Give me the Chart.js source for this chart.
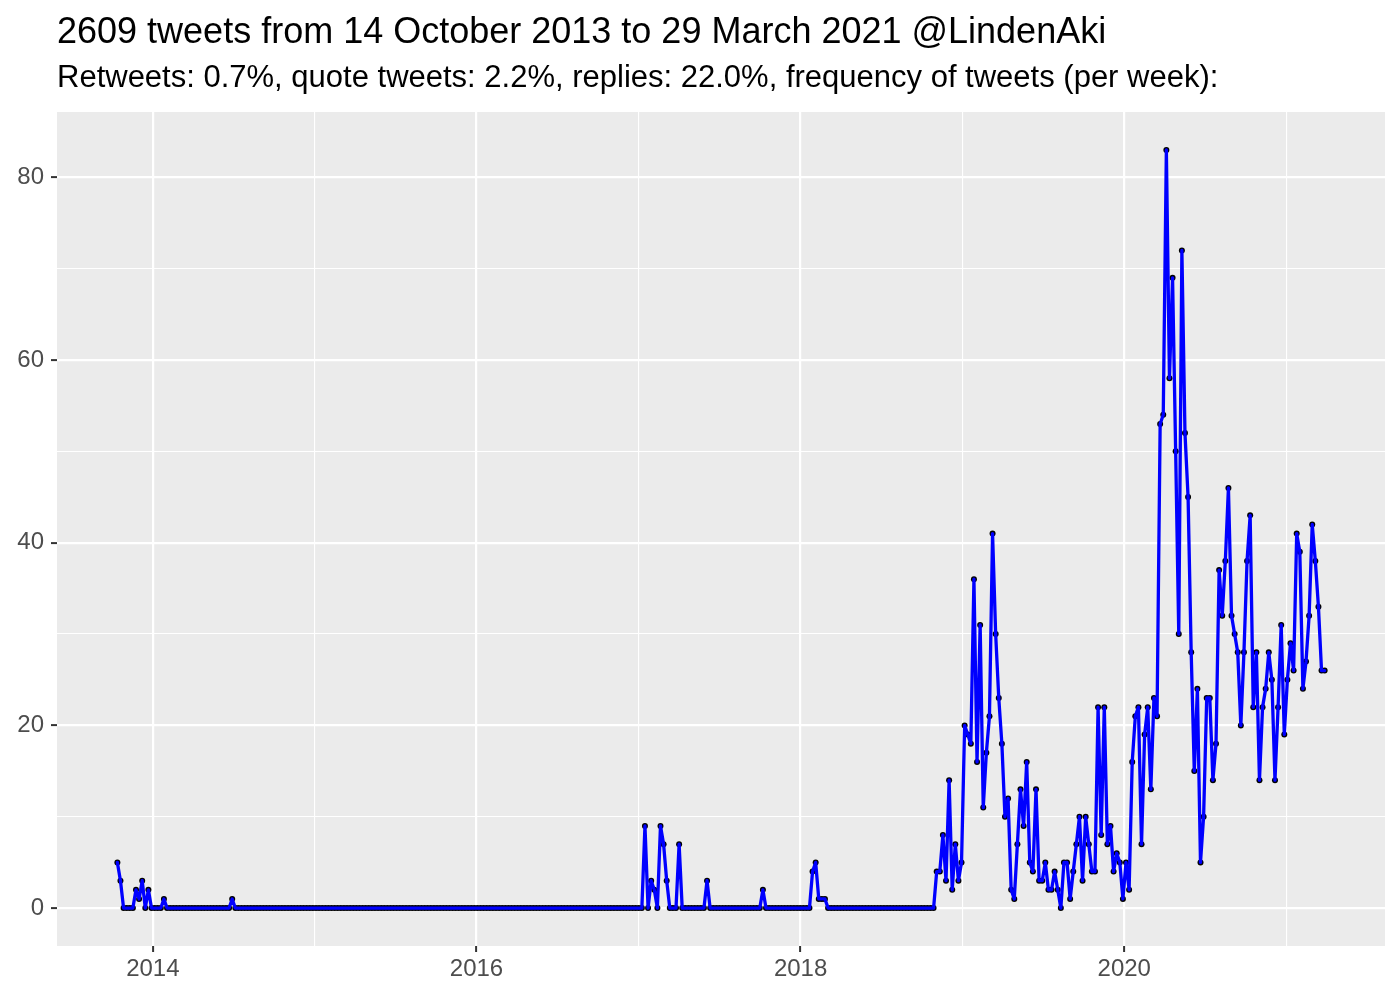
<!DOCTYPE html>
<html>
<head>
<meta charset="utf-8">
<title>Tweets per week @LindenAki</title>
<script src="https://cdn.jsdelivr.net/npm/chart.js@4.4.0/dist/chart.umd.min.js"></script>
<style>
    body { margin: 0; background: #ffffff; font-family: "Liberation Sans", Arial, sans-serif; }
    #wrap { position: relative; width: 1400px; height: 1000px; }
    #wrap canvas { position: absolute; left: 0; top: 0; }
    .heading { position: absolute; left: 57px; line-height: 1; white-space: nowrap; color: #000000; }
    #title { top: 13px; font-size: 36px; }
    #subtitle { top: 61px; font-size: 31px; }
</style>
</head>
<body>
<div id="wrap">
    <canvas id="tweetChart" width="1400" height="1000"></canvas>
    <div id="title" class="heading">2609 tweets from 14 October 2013 to 29 March 2021 @LindenAki</div>
    <div id="subtitle" class="heading">Retweets: 0.7%, quote tweets: 2.2%, replies: 22.0%, frequency of tweets (per week):</div>
</div>
<script>
// Weekly tweet counts, one value per week starting from the first week
const firstWeek = '2013-10-13';
const tweetsPerWeek = [
    5, 3, 0, 0, 0, 0, 2, 1, 3, 0, 2, 0, 0, 0, 0, 1, 0, 0, 0, 0,
    0, 0, 0, 0, 0, 0, 0, 0, 0, 0, 0, 0, 0, 0, 0, 0, 0, 1, 0, 0,
    0, 0, 0, 0, 0, 0, 0, 0, 0, 0, 0, 0, 0, 0, 0, 0, 0, 0, 0, 0,
    0, 0, 0, 0, 0, 0, 0, 0, 0, 0, 0, 0, 0, 0, 0, 0, 0, 0, 0, 0,
    0, 0, 0, 0, 0, 0, 0, 0, 0, 0, 0, 0, 0, 0, 0, 0, 0, 0, 0, 0,
    0, 0, 0, 0, 0, 0, 0, 0, 0, 0, 0, 0, 0, 0, 0, 0, 0, 0, 0, 0,
    0, 0, 0, 0, 0, 0, 0, 0, 0, 0, 0, 0, 0, 0, 0, 0, 0, 0, 0, 0,
    0, 0, 0, 0, 0, 0, 0, 0, 0, 0, 0, 0, 0, 0, 0, 0, 0, 0, 0, 0,
    0, 0, 0, 0, 0, 0, 0, 0, 0, 0, 9, 0, 3, 2, 0, 9, 7, 3, 0, 0,
    0, 7, 0, 0, 0, 0, 0, 0, 0, 0, 3, 0, 0, 0, 0, 0, 0, 0, 0, 0,
    0, 0, 0, 0, 0, 0, 0, 0, 2, 0, 0, 0, 0, 0, 0, 0, 0, 0, 0, 0,
    0, 0, 0, 0, 4, 5, 1, 1, 1, 0, 0, 0, 0, 0, 0, 0, 0, 0, 0, 0,
    0, 0, 0, 0, 0, 0, 0, 0, 0, 0, 0, 0, 0, 0, 0, 0, 0, 0, 0, 0,
    0, 0, 0, 0, 4, 4, 8, 3, 14, 2, 7, 3, 5, 20, 19, 18, 36, 16, 31, 11,
    17, 21, 41, 30, 23, 18, 10, 12, 2, 1, 7, 13, 9, 16, 5, 4, 13, 3, 3, 5,
    2, 2, 4, 2, 0, 5, 5, 1, 4, 7, 10, 3, 10, 7, 4, 4, 22, 8, 22, 7,
    9, 4, 6, 5, 1, 5, 2, 16, 21, 22, 7, 19, 22, 13, 23, 21, 53, 54, 83, 58,
    69, 50, 30, 72, 52, 45, 28, 15, 24, 5, 10, 23, 23, 14, 18, 37, 32, 38, 46, 32,
    30, 28, 20, 28, 38, 43, 22, 28, 14, 22, 24, 28, 25, 14, 22, 31, 19, 25, 29, 26,
    41, 39, 24, 27, 32, 42, 38, 33, 26, 26
];

// Axis breaks (major ones get a label, the others are minor grid lines)
const yearBreaks = [2014, 2015, 2016, 2017, 2018, 2019, 2020, 2021];
const yearLabels = [2014, 2016, 2018, 2020];
const countBreaks = [0, 10, 20, 30, 40, 50, 60, 70, 80];
const countLabels = [0, 20, 40, 60, 80];

const WEEK = 7 * 24 * 3600 * 1000;
const start = Date.parse(firstWeek + 'T00:00:00Z');
const points = tweetsPerWeek.map((v, i) => ({ x: start + i * WEEK, y: v }));

// ggplot style padding: 5% of the data range on each side
const xFirst = points[0].x, xLast = points[points.length - 1].x;
const xPad = (xLast - xFirst) * 0.05;
const yMax = Math.max(...tweetsPerWeek);
const yPad = yMax * 0.05;

const yearToMs = y => Date.UTC(y, 0, 1);
const isYearLabel = ms => yearLabels.includes(new Date(ms).getUTCFullYear());
const isCountLabel = v => countLabels.includes(v);

// Grey panel behind the grid
const panelBackground = {
    id: 'panelBackground',
    beforeDraw(chart) {
        const { ctx, chartArea: a } = chart;
        ctx.save();
        ctx.fillStyle = '#EBEBEB';
        ctx.fillRect(a.left, a.top, a.right - a.left, a.bottom - a.top);
        ctx.restore();
    }
};

const tickFont = { family: '"Liberation Sans", Arial, sans-serif', size: 24 };

const ctx = document.getElementById('tweetChart').getContext('2d');
new Chart(ctx, {
    type: 'line',
    data: {
        datasets: [
            {
                // line on top
                data: points,
                borderColor: '#0000FF',
                borderWidth: 3.3,
                borderJoinStyle: 'round',
                borderCapStyle: 'round',
                pointRadius: 0,
                tension: 0,
                fill: false,
                order: 0
            },
            {
                // black points underneath the line
                data: points,
                showLine: false,
                pointRadius: 3,
                pointBackgroundColor: '#000000',
                pointBorderWidth: 0,
                order: 1
            }
        ]
    },
    options: {
        responsive: false,
        animation: false,
        events: [],
        layout: { padding: { top: 112, right: 15, left: 0, bottom: 0 } },
        plugins: {
            legend: { display: false },
            tooltip: { enabled: false }
        },
        scales: {
            x: {
                type: 'linear',
                min: xFirst - xPad,
                max: xLast + xPad,
                afterBuildTicks: scale => { scale.ticks = yearBreaks.map(y => ({ value: yearToMs(y) })); },
                afterFit: scale => { scale.height = 54; },
                border: { display: false },
                grid: {
                    color: '#FFFFFF',
                    lineWidth: c => (c.tick && isYearLabel(c.tick.value)) ? 2.2 : 1.1,
                    tickColor: c => (c.tick && isYearLabel(c.tick.value)) ? '#333333' : 'rgba(0,0,0,0)',
                    tickLength: 6,
                    tickWidth: 2
                },
                ticks: {
                    autoSkip: false,
                    maxRotation: 0,
                    padding: 3,
                    color: '#4D4D4D',
                    font: tickFont,
                    callback: v => isYearLabel(v) ? String(new Date(v).getUTCFullYear()) : ''
                }
            },
            y: {
                min: -yPad,
                max: yMax + yPad,
                afterBuildTicks: scale => { scale.ticks = countBreaks.map(v => ({ value: v })); },
                afterFit: scale => { scale.width = 57; },
                border: { display: false },
                grid: {
                    color: '#FFFFFF',
                    lineWidth: c => (c.tick && isCountLabel(c.tick.value)) ? 2.2 : 1.1,
                    tickColor: c => (c.tick && isCountLabel(c.tick.value)) ? '#333333' : 'rgba(0,0,0,0)',
                    tickLength: 6,
                    tickWidth: 2
                },
                ticks: {
                    autoSkip: false,
                    padding: 7,
                    color: '#4D4D4D',
                    font: tickFont,
                    callback: v => isCountLabel(v) ? String(v) : ''
                }
            }
        }
    },
    plugins: [panelBackground]
});
</script>
</body>
</html>
